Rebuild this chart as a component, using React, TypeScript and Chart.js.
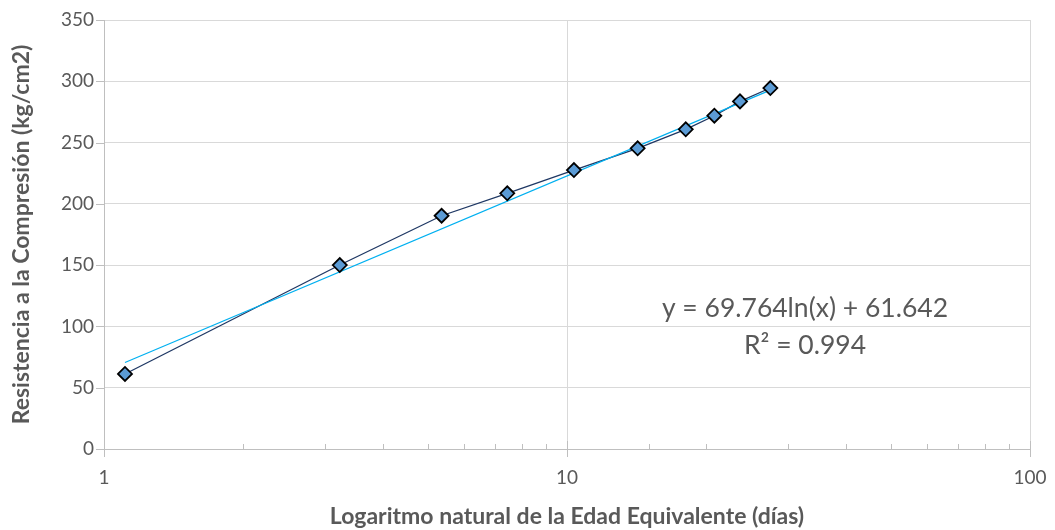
import { useEffect, useRef } from 'react';
import { Chart, registerables } from 'chart.js';

Chart.register(...registerables);

// Data
const edadEquivalente = [1.11, 3.23, 5.36, 7.43, 10.35, 14.21, 18.05, 20.81, 23.64, 27.49];
const resistencia = [61.2, 150.1, 190.3, 208.6, 227.6, 245.3, 260.8, 271.9, 283.6, 294.5];
const tendenciaX = [1.11, 27.49];
const tendenciaY = [70.6, 292.8];
const ecuacion = 'y = 69.764ln(x) + 61.642';
const coefR2 = 'R² = 0.994';
const tituloX = 'Logaritmo natural de la Edad Equivalente (días)';
const tituloY = 'Resistencia a la Compresión (kg/cm2)';

const FONT = 'Lato, "Noto Sans", sans-serif';
const TEXT = '#595959';
const GRID = '#d9d9d9';
const AXIS = '#bfbfbf';

const isDecade = (v: number) => {
  const l = Math.log10(v);
  return Math.abs(l - Math.round(l)) < 1e-6;
};

const decorPlugin = {
  id: 'decor',
  afterDraw(chart: any) {
    const { ctx, chartArea } = chart;
    const xs = chart.scales.x;
    const ys = chart.scales.y;
    ctx.save();
    ctx.strokeStyle = AXIS;
    ctx.lineWidth = 1;
    xs.ticks.forEach((t: any) => {
      const px = Math.round(xs.getPixelForValue(t.value)) + 0.5;
      ctx.beginPath();
      if (isDecade(t.value)) {
        ctx.moveTo(px, chartArea.bottom - 8);
        ctx.lineTo(px, chartArea.bottom + 8);
      } else {
        ctx.moveTo(px, chartArea.bottom - 5);
        ctx.lineTo(px, chartArea.bottom);
      }
      ctx.stroke();
    });
    ys.ticks.forEach((t: any) => {
      const py = Math.round(ys.getPixelForValue(t.value)) + 0.5;
      ctx.beginPath();
      ctx.moveTo(chartArea.left - 8, py);
      ctx.lineTo(chartArea.left, py);
      ctx.stroke();
    });
    // trendline equation label
    ctx.fillStyle = TEXT;
    ctx.font = `26.5px ${FONT}`;
    ctx.textAlign = 'center';
    ctx.textBaseline = 'middle';
    const cx = chartArea.left + (chartArea.right - chartArea.left) * 0.757;
    ctx.fillText(ecuacion, cx, chartArea.top + 288);
    ctx.fillText(coefR2, cx, chartArea.top + 325);
    ctx.restore();
  },
};

export default function App() {
  const ref = useRef<HTMLCanvasElement | null>(null);
  useEffect(() => {
    if (!ref.current) return;
    const chart = new Chart(ref.current, {
      type: 'scatter',
      data: {
        datasets: [
          {
            label: 'Puntos',
            data: edadEquivalente.map((x, i) => ({ x, y: resistencia[i] })),
            showLine: false,
            pointStyle: 'rectRot',
            pointRadius: 7,
            pointBackgroundColor: '#5b9bd5',
            pointBorderColor: '#000000',
            pointBorderWidth: 1.8,
            order: 1,
          },
          {
            label: 'Tendencia',
            data: tendenciaX.map((x, i) => ({ x, y: tendenciaY[i] })),
            showLine: true,
            borderColor: '#00b0f0',
            borderWidth: 1.2,
            pointRadius: 0,
            order: 2,
          },
          {
            label: 'Línea',
            data: edadEquivalente.map((x, i) => ({ x, y: resistencia[i] })),
            showLine: true,
            borderColor: '#1f3864',
            borderWidth: 1.3,
            pointRadius: 0,
            order: 3,
          },
        ],
      },
      options: {
        responsive: false,
        animation: false,
        layout: { padding: { left: 0, right: 25, top: 20, bottom: 0 } },
        plugins: { legend: { display: false }, tooltip: { enabled: false } },
        scales: {
          x: {
            type: 'logarithmic',
            min: 1,
            max: 100,
            afterFit: (s: any) => {
              s.height = 81;
              s.paddingLeft = 0;
              s.paddingRight = 0;
            },
            grid: {
              drawTicks: false,
              color: (c: any) => (c.tick && isDecade(c.tick.value) ? GRID : 'rgba(0,0,0,0)'),
            },
            border: { color: AXIS },
            ticks: {
              autoSkip: false,
              maxRotation: 0,
              padding: 17,
              color: TEXT,
              font: { family: FONT, size: 19 },
              callback: (v: any) => (isDecade(Number(v)) ? String(Number(v)) : ''),
            },
            title: {
              display: true,
              text: tituloX,
              color: TEXT,
              font: { family: FONT, size: 23, weight: 'bold' },
              padding: { top: 0, bottom: 0 },
            },
          },
          y: {
            min: 0,
            max: 350,
            afterFit: (s: any) => {
              s.width = 104;
              s.paddingTop = 0;
              s.paddingBottom = 0;
            },
            grid: { drawTicks: false, color: GRID },
            border: { color: AXIS },
            ticks: {
              stepSize: 50,
              padding: 10,
              color: TEXT,
              font: { family: FONT, size: 19 },
            },
            title: {
              display: true,
              text: tituloY,
              color: TEXT,
              font: { family: FONT, size: 23, weight: 'bold' },
              padding: { top: 8, bottom: 0 },
            },
          },
        },
      },
      plugins: [decorPlugin],
    });
    return () => chart.destroy();
  }, []);
  return (
    <div style={{ position: 'fixed', left: 0, top: 0, width: 1055, height: 530, background: '#fff' }}>
      <canvas ref={ref} width={1055} height={530} />
    </div>
  );
}
